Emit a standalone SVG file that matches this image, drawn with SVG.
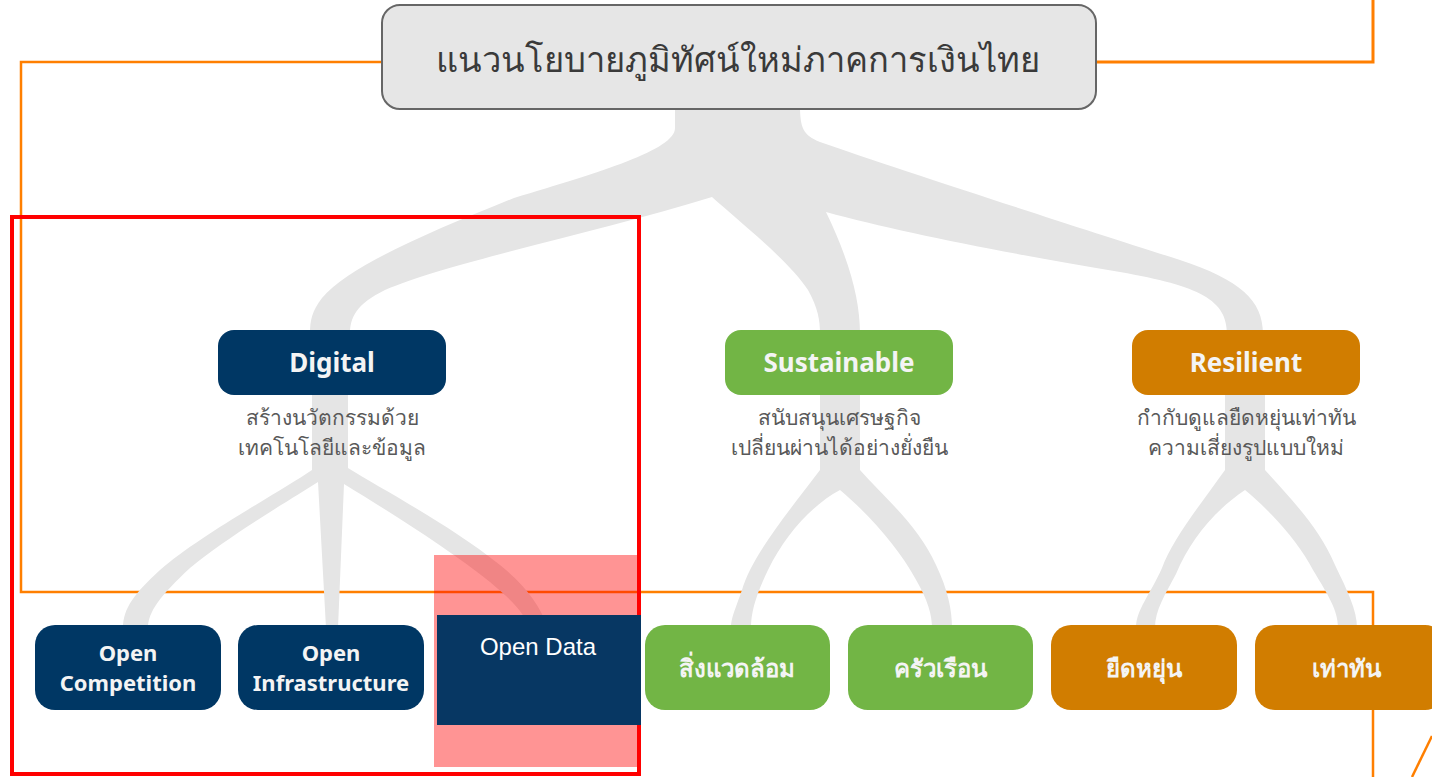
<svg xmlns="http://www.w3.org/2000/svg" width="1432" height="777" viewBox="0 0 1432 777">
<style>
.orange{fill:none;stroke:#ff7f00;stroke-width:2.5}
.branch{fill:#e5e5e5}
.navy{fill:#003764}
.green{fill:#72b545}
.amber{fill:#d17d00}
.lbl{font-family:"Noto Sans","DejaVu Sans",sans-serif;font-weight:bold;fill:#f4f4f4;text-anchor:middle}
.sub{font-family:"Noto Sans","DejaVu Sans",sans-serif;font-size:21px;fill:#595959;text-anchor:middle}
.title{font-family:"Noto Sans","DejaVu Sans",sans-serif;font-size:34.5px;fill:#3a3a3a;text-anchor:middle}
</style>
<rect width="1432" height="777" fill="#ffffff"/>
<g id="frame-lines">
<polyline class="orange" points="382,62 21,62 21,592 1373,592 1373,777"/>
<polyline class="orange" points="1096,62 1373,62 1373,0" style="stroke-width:3"/>
<line class="orange" x1="1412" y1="777" x2="1432" y2="736"/>
</g>
<g id="connectors">
<path class="branch" d="M675 105 L675 128 C675 150 600 172 514 198 C430 232 350 265 322 298 C312 311 310 320 310 334 L350 334 C350 318 356 304 385 290 C450 262 600 232 712 197 C740 222 790 262 808 290 C818 308 820 320 820 334 L860 334 C860 300 850 262 826 212 C900 232 1000 252 1120 272 C1200 286 1227 300 1227 334 L1263 334 C1263 300 1240 280 1180 260 C1080 228 900 170 820 142 C803 135 800 128 800 105 Z"/>
<path class="branch" d="M312 392 L312 470 C280 492 200 535 160 570 C135 593 123 608 123 628 L148 628 C148 612 160 596 190 568 C230 535 290 500 318 482 L326 628 L338 628 L344 484 C390 512 450 550 490 582 C515 603 526 615 528 628 L548 628 C540 605 525 585 500 565 C450 525 380 488 348 468 L348 392 Z"/>
<path class="branch" d="M820 392 L820 470 C790 510 752 555 742 590 C735 610 731 618 731 628 L751 628 C751 612 756 595 768 570 C785 535 812 505 840 490 C870 515 900 550 915 578 C928 600 932 615 932 628 L952 628 C952 610 948 590 936 565 C918 525 882 495 860 470 L860 392 Z"/>
<path class="branch" d="M1225 392 L1225 470 C1200 505 1172 540 1162 568 C1150 595 1136 610 1136 628 L1155 628 C1155 610 1165 595 1176 574 C1190 540 1215 510 1245 490 C1275 515 1300 545 1313 570 C1328 595 1338 610 1338 628 L1357 628 C1357 610 1347 590 1335 565 C1318 525 1287 495 1265 470 L1265 392 Z"/>
</g>
<g id="title">
<rect x="382" y="5" width="714" height="104" rx="18" fill="#e6e6e6" stroke="#666666" stroke-width="2"/>
<text class="title" x="738" y="72">แนวนโยบายภูมิทัศน์ใหม่ภาคการเงินไทย</text>
</g>
<g id="digital">
<rect class="navy" x="218" y="330" width="228" height="65" rx="16"/>
<text class="lbl" x="332" y="372" font-size="26">Digital</text>
<text class="sub" x="332" y="425">สร้างนวัตกรรมด้วย</text>
<text class="sub" x="332" y="455">เทคโนโลยีและข้อมูล</text>
</g>
<g id="sustainable">
<rect class="green" x="725" y="330" width="228" height="65" rx="16"/>
<text class="lbl" x="839" y="372" font-size="26">Sustainable</text>
<text class="sub" x="839" y="425">สนับสนุนเศรษฐกิจ</text>
<text class="sub" x="839" y="455">เปลี่ยนผ่านได้อย่างยั่งยืน</text>
</g>
<g id="resilient">
<rect class="amber" x="1132" y="330" width="228" height="65" rx="16"/>
<text class="lbl" x="1246" y="372" font-size="26">Resilient</text>
<text class="sub" x="1246" y="425">กำกับดูแลยืดหยุ่นเท่าทัน</text>
<text class="sub" x="1246" y="455">ความเสี่ยงรูปแบบใหม่</text>
</g>
<g id="open-competition">
<rect class="navy" x="35" y="625" width="186" height="85" rx="20"/>
<text class="lbl" x="128" y="661" font-size="22">Open</text>
<text class="lbl" x="128" y="691" font-size="22">Competition</text>
</g>
<g id="open-infrastructure">
<rect class="navy" x="238" y="625" width="186" height="85" rx="20"/>
<text class="lbl" x="331" y="661" font-size="22">Open</text>
<text class="lbl" x="331" y="691" font-size="22">Infrastructure</text>
</g>
<g id="environment">
<rect class="green" x="645" y="625" width="185" height="85" rx="20"/>
<text class="lbl" x="737" y="677" font-size="24">สิ่งแวดล้อม</text>
</g>
<g id="household">
<rect class="green" x="848" y="625" width="185" height="85" rx="20"/>
<text class="lbl" x="940" y="677" font-size="24">ครัวเรือน</text>
</g>
<g id="flexible">
<rect class="amber" x="1051" y="625" width="186" height="85" rx="20"/>
<text class="lbl" x="1144" y="677" font-size="24">ยืดหยุ่น</text>
</g>
<g id="keep-pace">
<rect class="amber" x="1255" y="625" width="190" height="85" rx="20"/>
<text class="lbl" x="1346" y="677" font-size="24">เท่าทัน</text>
</g>
<g id="highlight">
<rect x="12" y="217" width="627" height="557" fill="none" stroke="#ff0000" stroke-width="4"/>
<rect x="434" y="555" width="204" height="212" fill="#ff0000" fill-opacity="0.42"/>
</g>
<g id="open-data">
<rect x="437" y="615" width="204" height="110" fill="#073763"/>
<text x="538" y="655" font-family="'Liberation Sans',Arial,sans-serif" font-size="24" fill="#ffffff" text-anchor="middle">Open Data</text>
</g>
</svg>
